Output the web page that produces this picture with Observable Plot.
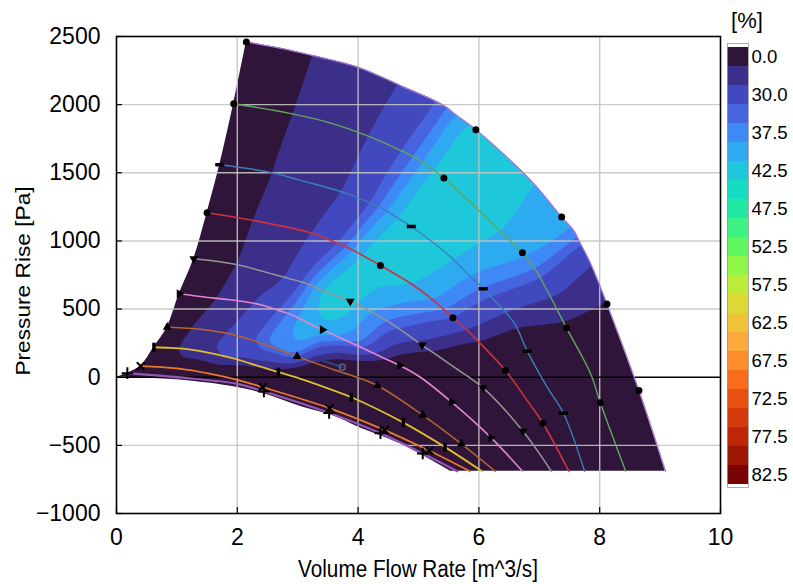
<!DOCTYPE html>
<html>
<head>
<meta charset="utf-8">
<script src="https://cdn.jsdelivr.net/npm/d3@7"></script>
<script src="https://cdn.jsdelivr.net/npm/@observablehq/plot@0.6"></script>
<style>
  body { margin: 0; background: #fff; }
  #chart { position: relative; width: 793px; height: 584px; overflow: hidden; color: #000;
           font-family: "Liberation Sans", Arial, sans-serif; }
  #main { position: absolute; left: 0; top: 0; }
  #bar { position: absolute; left: 722px; top: 0; }
  .lab { position: absolute; white-space: nowrap; line-height: 23px; }
  #xlab { left: 418px; top: 558px; font-size: 23px; transform: translateX(-50%) scaleX(0.9); }
  #ylab { left: 24px; top: 281px; font-size: 22.7px; transform: translate(-50%, -50%) rotate(-90deg) scaleY(0.85); }
  #unit { left: 747px; top: 9px; font-size: 22px; transform: translateX(-50%); }
</style>
</head>
<body>
<div id="chart">
  <div id="main"></div>
  <div id="bar"></div>
  <div class="lab" id="xlab">Volume Flow Rate [m^3/s]</div>
  <div class="lab" id="ylab">Pressure Rise [Pa]</div>
  <div class="lab" id="unit">[%]</div>
</div>
<script>
// Efficiency bands [%] (lower bound of each band) and their colours
const levels = [0, 25, 30, 35, 37.5, 40, 42.5, 45, 47.5, 50, 52.5, 55, 57.5, 60, 62.5, 65, 67.5, 70, 72.5, 75, 77.5, 80, 82.5];
const levelColors = ["#2e1539", "#3b2f8a", "#4248bd", "#4564de", "#3f89f6", "#2eaaf0", "#1ec8da", "#17dcc4",
  "#22e8a5", "#3ef283", "#5ef75f", "#90f545", "#bceb39", "#dcd934", "#efc23a", "#fba93a", "#fd8d2b",
  "#f86d1c", "#e8500f", "#d53b0a", "#bd2705", "#9d1603", "#790403"];

const xTicks = [0, 2, 4, 6, 8, 10];
const yTicks = [-1000, -500, 0, 500, 1000, 1500, 2000, 2500];

// Speed curves: [flow m^3/s, pressure rise Pa, efficiency %]
const curveTop = [[2.15, 2460, 15], [2.70, 2415, 20], [3.20, 2365, 25], [3.99, 2276, 28], [4.70, 2140, 30],
  [5.31, 2020, 35], [5.48, 1975, 37.5], [5.59, 1935, 40], [5.76, 1880, 42.5], [5.95, 1816, 43.5],
  [6.58, 1566, 44], [6.95, 1400, 42.3], [7.37, 1175, 41.5], [7.57, 1077, 40], [7.68, 982, 35],
  [7.85, 834, 30], [8.12, 538, 25], [8.65, -98, 5], [9.09, -690, 3]];
const curveGreen = [[1.94, 2007, 15], [2.87, 1936, 25], [3.49, 1872, 27.5], [4.21, 1762, 30], [4.72, 1660, 35],
  [4.92, 1616, 37.5], [5.06, 1581, 40], [5.21, 1531, 42.5], [5.42, 1461, 43.5], [6.03, 1211, 43.8],
  [6.36, 1067, 42.5], [6.72, 913, 40.8], [6.94, 785, 37.5], [7.13, 636, 31.5], [7.45, 362, 24],
  [7.85, 25, 10], [8.01, -188, 5], [8.43, -690, 3]];
const curveBlue = [[1.71, 1559, 14], [2.53, 1505, 25], [3.05, 1444, 27.5], [3.77, 1354, 30], [4.22, 1275, 35],
  [4.37, 1248, 38], [4.62, 1178, 42.5], [4.88, 1106, 44], [5.47, 906, 43.4], [5.86, 739, 40],
  [6.07, 649, 37.5], [6.58, 400, 27], [6.80, 191, 16], [7.13, -73, 5], [7.40, -264, 4], [7.75, -690, 3]];
const curveRed = [[1.50, 1207, 14], [2.20, 1156, 25], [3.27, 1053, 30], [3.68, 978, 35], [3.82, 954, 37.5],
  [4.00, 912, 42.5], [4.37, 820, 44.2], [4.92, 673, 42.6], [5.25, 563, 40.2], [5.57, 436, 35.5],
  [5.81, 343, 30], [6.03, 245, 24.5], [6.44, 49, 12], [6.80, -171, 5], [7.06, -338, 4], [7.49, -690, 3]];
const curveGray = [[1.28, 869, 14], [1.94, 830, 25], [2.85, 725, 30], [3.10, 695, 36], [3.40, 640, 43.5],
  [3.87, 556, 44], [4.15, 496, 40.5], [4.48, 413, 37.5], [4.70, 350, 35], [5.06, 236, 29], [5.25, 179, 25],
  [5.59, 74, 16], [6.07, -78, 5], [6.73, -396, 4], [7.20, -690, 3]];
const curvePink = [[1.04, 612, 13], [1.61, 580, 25], [1.89, 568, 27], [2.40, 530, 31], [2.72, 485, 36],
  [2.92, 455, 39], [3.05, 425, 41], [3.41, 348, 42.3], [3.71, 288, 40.5], [4.09, 210, 37], [4.37, 152, 29],
  [4.69, 86, 20], [5.03, 0, 10], [5.55, -183, 5], [6.20, -443, 3.5], [6.72, -690, 3]];
const curveBrown = [[0.84, 367, 12], [1.17, 360, 25], [1.39, 352, 27], [1.94, 312, 31], [2.49, 235, 38.5],
  [2.99, 153, 39.5], [3.20, 118, 28], [3.60, 55, 16], [3.98, 0, 10], [4.32, -61, 5], [5.07, -278, 4],
  [5.71, -489, 3], [6.27, -690, 3]];
const curveYellow = [[0.62, 220, 12], [0.90, 215, 25], [1.20, 205, 27.5], [1.94, 138, 33], [2.22, 100, 30],
  [2.68, 37, 24], [3.05, -12, 10], [3.60, -98, 5], [3.89, -147, 4], [4.75, -333, 3], [5.44, -513, 3], [6.05, -690, 3]];
const curveOrange = [[0.40, 82, 10], [1.00, 65, 24], [1.56, 25, 20], [2.00, -19, 8], [2.42, -73, 5],
  [3.53, -228, 3], [4.44, -388, 3], [5.18, -540, 3], [5.85, -690, 3]];
const curveBottom = [[0.18, 30, 5], [1.00, 0, 4], [2.00, -49, 3], [2.44, -105, 3], [3.52, -262, 3],
  [4.37, -411, 3], [5.07, -560, 3], [5.64, -690, 3]];

// Measured points on each speed curve: [flow, pressure rise]
const markTop = [[2.15, 2460], [5.95, 1816], [7.37, 1175], [8.12, 538], [8.65, -98]];
const markGreen = [[1.94, 2007], [5.42, 1461], [6.72, 913], [7.45, 362], [8.01, -188]];
const markBlue = [[1.71, 1559], [4.88, 1106], [6.07, 649], [6.80, 191], [7.40, -264]];
const markRed = [[1.50, 1207], [4.37, 820], [5.57, 436], [6.44, 49], [7.06, -338]];
const markGray = [[1.28, 869], [3.87, 556], [5.06, 236], [6.07, -78], [6.73, -396]];
const markPink = [[1.04, 612], [3.41, 348], [4.69, 86], [5.55, -183], [6.20, -443]];
const markBrown = [[0.84, 367], [2.99, 153], [4.32, -61], [5.07, -278], [5.71, -489]];
const markYellow = [[0.62, 220], [2.68, 37], [3.89, -147], [4.75, -333], [5.44, -513]];
const markOrange = [[0.40, 82], [2.42, -73], [3.53, -228], [4.44, -388], [5.18, -540]];
const markBottom = [[0.18, 30], [2.44, -105], [3.52, -262], [4.37, -411], [5.07, -560]];

// Edges of the mapped region (stall line on the left, lowest curve underneath)
const leftEdge = [[0, 0], [0.18, 30], [0.40, 82], [0.62, 220], [0.84, 367], [1.04, 612], [1.28, 869],
  [1.50, 1207], [1.71, 1559], [1.94, 2007], [2.15, 2460]];
const lowerEdge = [[0, 0], [1.00, -19], [2.00, -75], [2.47, -125], [3.05, -215], [3.60, -285],
  [4.01, -367], [4.70, -489], [5.53, -690]];

// Operating point indicator
const opSegment = [[3.43, 118], [3.74, 74]];
const opPoint = [[3.74, 74]];

// Bar-shaped marker symbols
const hbar = {draw(ctx, size) { const r = Math.sqrt(size / Math.PI);
  ctx.moveTo(-1.3 * r, -0.5 * r); ctx.lineTo(1.3 * r, -0.5 * r); ctx.lineTo(1.3 * r, 0.5 * r); ctx.lineTo(-1.3 * r, 0.5 * r); ctx.closePath(); }};
const vbar = {draw(ctx, size) { const r = Math.sqrt(size / Math.PI);
  ctx.moveTo(-0.5 * r, -1.3 * r); ctx.lineTo(0.5 * r, -1.3 * r); ctx.lineTo(0.5 * r, 1.3 * r); ctx.lineTo(-0.5 * r, 1.3 * r); ctx.closePath(); }};

const speedLines = [
  {rows: curveTop, marks: markTop, stroke: "#a57bd4", width: 1.3, symbol: "circle", r: 3.5},
  {rows: curveGreen, marks: markGreen, stroke: "#5fa85c", width: 1.4, symbol: "circle", r: 3.5},
  {rows: curveBlue, marks: markBlue, stroke: "#3c7fba", width: 1.4, symbol: hbar, r: 3.5},
  {rows: curveRed, marks: markRed, stroke: "#cc3340", width: 1.6, symbol: "circle", r: 3.5},
  {rows: curveGray, marks: markGray, stroke: "#959595", width: 1.5, symbol: "triangle", r: 3.3, rotate: 180},
  {rows: curvePink, marks: markPink, stroke: "#e286cc", width: 1.6, symbol: "triangle", r: 3.3, rotate: 90},
  {rows: curveBrown, marks: markBrown, stroke: "#b4662f", width: 1.5, symbol: "triangle", r: 3.3, rotate: 0},
  {rows: curveYellow, marks: markYellow, stroke: "#ddbf2c", width: 1.8, symbol: vbar, r: 3.5},
  {rows: curveOrange, marks: markOrange, stroke: "#e8782a", width: 1.8, symbol: "times", r: 3.6, outline: true},
  {rows: curveBottom, marks: markBottom, stroke: "#9457b2", width: 2.2, symbol: "plus", r: 3.8, outline: true}
];

const samples = speedLines.flatMap(s => s.rows.map(([q, p, e]) => ({q, p, e})));
const fmt = d => (d < 0 ? "\u2212" + Math.abs(d) : String(d));
const colorScale = {type: "ordinal", domain: levels, range: levelColors};

const plot = Plot.plot({
  width: 793, height: 584,
  marginLeft: 116, marginRight: 73, marginTop: 36, marginBottom: 71,
  x: {domain: [0, 10], label: null},
  y: {domain: [-1000, 2500], label: null},
  color: colorScale,
  style: {fontFamily: "'Liberation Sans Narrow', 'Arial Narrow', 'Liberation Sans', sans-serif", fontSize: "23px", color: "#000", background: "#fff"},
  marks: [
    Plot.contour(samples, {x: "q", y: "p", fill: "e", interpolate: "barycentric", thresholds: levels, blur: 3, stroke: "none"}),
    Plot.gridX(xTicks.slice(1, -1), {stroke: "#c4c4c4", strokeOpacity: 0.9, strokeWidth: 1.4}),
    Plot.gridY(yTicks.filter(v => v !== 0 && v > -1000 && v < 2500), {stroke: "#c4c4c4", strokeOpacity: 0.9, strokeWidth: 1.4}),
    Plot.ruleY([0], {stroke: "#000", strokeWidth: 1.4}),
    ...speedLines.map(s => Plot.line(s.rows, {x: d => d[0], y: d => d[1], stroke: s.stroke, strokeWidth: s.width, curve: "catmull-rom"})),
    Plot.line(opSegment, {x: d => d[0], y: d => d[1], stroke: "#2d3f78", strokeWidth: 2.2}),
    Plot.dot(opPoint, {x: d => d[0], y: d => d[1], r: 3, stroke: "#6b6b8a", fill: "none", strokeWidth: 1.2}),
    ...speedLines.map(s => Plot.dot(s.marks, {
      x: d => d[0], y: d => d[1], symbol: s.symbol, r: s.r, rotate: s.rotate || 0,
      fill: s.outline ? "none" : "#000", stroke: s.outline ? "#000" : "none", strokeWidth: s.outline ? 2 : 0
    })),
    Plot.frame({stroke: "#000", strokeWidth: 1.6}),
    Plot.tickX(xTicks, {x: d => d, insetTop: 471, stroke: "#000", strokeWidth: 1.2}),
    Plot.tickY(yTicks, {y: d => d, insetRight: 598, stroke: "#000", strokeWidth: 1.2}),
    Plot.axisX(xTicks, {tickSize: 0, tickPadding: 15, label: null, tickFormat: fmt}),
    Plot.axisY(yTicks, {tickSize: 0, tickPadding: 16, label: null, tickFormat: fmt})
  ]
});

// Restrict the efficiency bands to the mapped region
(function clipContours(svg) {
  const sx = svg.scale("x"), sy = svg.scale("y");
  const px = ([q, p]) => [sx.apply(q), sy.apply(p)];
  const curved = d3.line().curve(d3.curveCatmullRom);
  const d = curved(curveTop.map(px))
    + curved(lowerEdge.slice().reverse().map(px)).replace(/^M/, "L")
    + curved(leftEdge.map(px)).replace(/^M/, "L") + "Z";
  const ns = "http://www.w3.org/2000/svg";
  const defs = document.createElementNS(ns, "defs");
  const clip = document.createElementNS(ns, "clipPath");
  clip.setAttribute("id", "fan-region");
  const path = document.createElementNS(ns, "path");
  path.setAttribute("d", d);
  clip.appendChild(path); defs.appendChild(clip);
  svg.insertBefore(defs, svg.firstChild);
  const g = svg.querySelector('g[aria-label="contour"]');
  if (g) {
    const wrap = document.createElementNS(ns, "g");
    wrap.setAttribute("clip-path", "url(#fan-region)");
    g.parentNode.insertBefore(wrap, g);
    wrap.appendChild(g);
  }
})(plot);
document.getElementById("main").append(plot);

// Colour bar
const bar = Plot.plot({
  width: 71, height: 584,
  marginTop: 43, marginBottom: 97, marginLeft: 5, marginRight: 45,
  x: {domain: [0, 1], axis: null},
  y: {type: "band", domain: levels, padding: 0, axis: null},
  color: colorScale,
  style: {fontFamily: "'Liberation Sans', Arial, sans-serif", fontSize: "18.6px", color: "#000", background: "transparent", overflow: "visible"},
  marks: [
    Plot.barX(levels, {x: () => 1, y: d => d, fill: d => d, inset: 0}),
    Plot.frame({stroke: "#9a9a9a", strokeWidth: 0.8}),
    Plot.axisY(levels.filter((d, i) => i % 2 === 0), {anchor: "right", tickSize: 0, tickPadding: 3, label: null, tickFormat: d => d.toFixed(1)})
  ]
});
document.getElementById("bar").append(bar);
</script>
</body>
</html>
